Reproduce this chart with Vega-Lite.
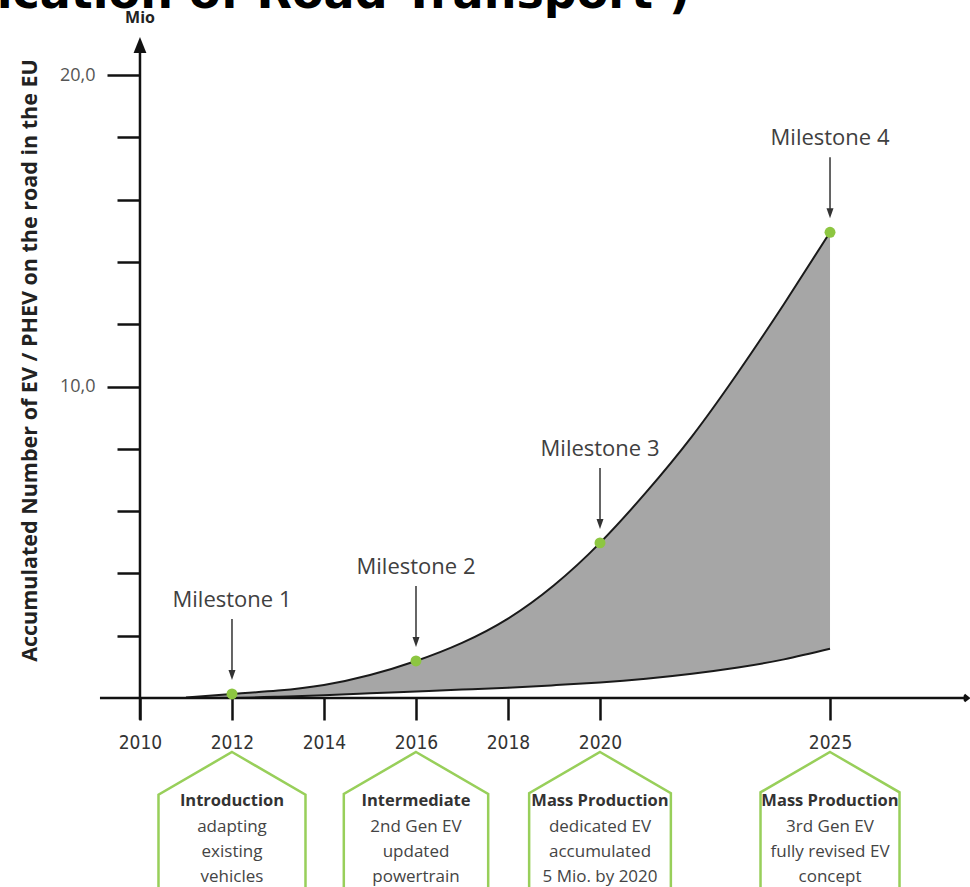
{
  "$schema": "https://vega.github.io/schema/vega-lite/v6.json",
  "width": 970,
  "height": 887,
  "autosize": {"type": "none"},
  "padding": 0,
  "background": "white",
  "config": {"view": {"stroke": null}},
  "datasets": {
    "growth": [
      {"year": 2011, "low": 0.0, "high": 0.02},
      {"year": 2012, "low": 0.0, "high": 0.13},
      {"year": 2013, "low": 0.04, "high": 0.24},
      {"year": 2014, "low": 0.09, "high": 0.42},
      {"year": 2015, "low": 0.15, "high": 0.74},
      {"year": 2016, "low": 0.21, "high": 1.19},
      {"year": 2017, "low": 0.27, "high": 1.77},
      {"year": 2018, "low": 0.33, "high": 2.55},
      {"year": 2019, "low": 0.41, "high": 3.62},
      {"year": 2020, "low": 0.5, "high": 4.98},
      {"year": 2021, "low": 0.62, "high": 6.6},
      {"year": 2022, "low": 0.78, "high": 8.4},
      {"year": 2023, "low": 0.98, "high": 10.45},
      {"year": 2024, "low": 1.24, "high": 12.65},
      {"year": 2025, "low": 1.58, "high": 14.95}
    ],
    "milestones": [
      {"year": 2012, "value": 0.13, "label": "Milestone 1", "phase": "Introduction", "detail": "adapting\nexisting\nvehicles"},
      {"year": 2016, "value": 1.19, "label": "Milestone 2", "phase": "Intermediate", "detail": "2nd Gen EV\nupdated\npowertrain"},
      {"year": 2020, "value": 4.98, "label": "Milestone 3", "phase": "Mass Production", "detail": "dedicated EV\naccumulated\n5 Mio. by 2020"},
      {"year": 2025, "value": 14.95, "label": "Milestone 4", "phase": "Mass Production", "detail": "3rd Gen EV\nfully revised  EV\nconcept"}
    ]
  },
  "layer": [
    {
      "data": {"name": "growth"},
      "mark": {"type": "area", "interpolate": "natural", "color": "#a6a6a6"},
      "encoding": {
        "x": {
          "field": "year",
          "type": "quantitative",
          "scale": {"domain": [2006.957, 2028.043], "nice": false, "zero": false},
          "axis": {
            "orient": "bottom",
            "offset": -189,
            "values": [2010, 2012, 2014, 2016, 2018, 2020, 2025],
            "format": "d",
            "domain": false,
            "grid": false,
            "tickSize": 22,
            "tickWidth": 2.5,
            "tickColor": "#111111",
            "labelFont": "DejaVu Sans Condensed",
            "labelFontSize": 19,
            "labelColor": "#333333",
            "labelPadding": 13,
            "labelFlush": false,
            "labelOverlap": false,
            "title": null
          }
        },
        "y": {
          "field": "high",
          "type": "quantitative",
          "scale": {"domain": [-6.067, 22.408], "nice": false, "zero": false},
          "axis": {
            "orient": "left",
            "offset": -140,
            "values": [2, 4, 6, 8, 10, 12, 14, 16, 18, 20],
            "domain": false,
            "grid": false,
            "tickSize": {"condition": {"test": "datum.value % 10 === 0", "value": 33}, "value": 23},
            "tickWidth": 2.5,
            "tickColor": "#111111",
            "labelExpr": "datum.value % 10 === 0 ? replace(format(datum.value, '.1f'), '.', ',') : ''",
            "labelFont": "Open Sans",
            "labelFontSize": 18,
            "labelColor": "#555555",
            "labelPadding": 12,
            "labelOverlap": false,
            "title": "Accumulated Number of EV / PHEV on the road in the EU",
            "titleFont": "Open Sans",
            "titleFontWeight": "bold",
            "titleFontSize": 21.5,
            "titleColor": "#222222",
            "titleAngle": -90,
            "titleX": -110,
            "titleY": 360,
            "titleAlign": "center",
            "titleBaseline": "middle"
          }
        },
        "y2": {"field": "low"}
      }
    },
    {
      "data": {"name": "growth"},
      "mark": {"type": "line", "interpolate": "natural", "color": "#1a1a1a", "strokeWidth": 2},
      "encoding": {
        "x": {"field": "year", "type": "quantitative"},
        "y": {"field": "high", "type": "quantitative"}
      }
    },
    {
      "data": {"name": "growth"},
      "mark": {"type": "line", "interpolate": "natural", "color": "#1a1a1a", "strokeWidth": 2},
      "encoding": {
        "x": {"field": "year", "type": "quantitative"},
        "y": {"field": "low", "type": "quantitative"}
      }
    },
    {
      "data": {"values": [{}]},
      "mark": {"type": "rule", "color": "#111111", "strokeWidth": 2.5},
      "encoding": {
        "x": {"datum": 2009.13, "type": "quantitative"},
        "x2": {"datum": 2027.95},
        "y": {"datum": 0, "type": "quantitative"}
      }
    },
    {
      "data": {"values": [{}]},
      "mark": {"type": "rule", "color": "#111111", "strokeWidth": 2.5},
      "encoding": {
        "x": {"datum": 2010, "type": "quantitative"},
        "y": {"datum": -0.7, "type": "quantitative"},
        "y2": {"datum": 21.0}
      }
    },
    {
      "data": {"values": [{}]},
      "mark": {"type": "point", "shape": "M0,0 L0.8,2 L-0.8,2 Z", "size": 256, "filled": true, "color": "#111111", "opacity": 1},
      "encoding": {
        "x": {"datum": 2010, "type": "quantitative"},
        "y": {"datum": 21.22, "type": "quantitative"}
      }
    },
    {
      "data": {"values": [{}]},
      "mark": {"type": "point", "shape": "M-1.3,-1 L0,0 L-1.3,1", "size": 36, "filled": false, "color": "#111111", "strokeWidth": 3, "opacity": 1},
      "encoding": {
        "x": {"datum": 2028.0, "type": "quantitative"},
        "y": {"datum": 0, "type": "quantitative"}
      }
    },
    {
      "data": {"values": [{}]},
      "mark": {"type": "text", "text": "Electrification of Road Transport )", "font": "DejaVu Sans", "fontWeight": "bold", "fontSize": 46, "color": "#000000", "align": "right", "baseline": "alphabetic"},
      "encoding": {
        "x": {"datum": 2021.957, "type": "quantitative"},
        "y": {"datum": 22.151, "type": "quantitative"}
      }
    },
    {
      "data": {"values": [{}]},
      "mark": {"type": "text", "text": "Mio", "font": "Open Sans", "fontWeight": "bold", "fontSize": 16, "color": "#222222", "baseline": "middle", "yOffset": -19},
      "encoding": {
        "x": {"datum": 2010, "type": "quantitative"},
        "y": {"datum": 21.22, "type": "quantitative"}
      }
    },
    {
      "data": {"name": "milestones"},
      "mark": {"type": "rule", "color": "#333333", "strokeWidth": 1.5, "yOffset": -75, "y2Offset": -18},
      "encoding": {
        "x": {"field": "year", "type": "quantitative"},
        "y": {"field": "value", "type": "quantitative"},
        "y2": {"field": "value"}
      }
    },
    {
      "data": {"name": "milestones"},
      "mark": {"type": "point", "shape": "M-0.7,-2 L0,0 L0.7,-2 Z", "size": 100, "filled": true, "color": "#333333", "opacity": 1, "yOffset": -14},
      "encoding": {
        "x": {"field": "year", "type": "quantitative"},
        "y": {"field": "value", "type": "quantitative"}
      }
    },
    {
      "data": {"name": "milestones"},
      "mark": {"type": "point", "shape": "circle", "size": 120, "filled": true, "color": "#8dc641", "opacity": 1},
      "encoding": {
        "x": {"field": "year", "type": "quantitative"},
        "y": {"field": "value", "type": "quantitative"}
      }
    },
    {
      "data": {"name": "milestones"},
      "mark": {"type": "text", "font": "Open Sans", "fontSize": 22, "color": "#404040", "align": "center", "baseline": "middle", "yOffset": -94},
      "encoding": {
        "x": {"field": "year", "type": "quantitative"},
        "y": {"field": "value", "type": "quantitative"},
        "text": {"field": "label"}
      }
    },
    {
      "data": {"name": "milestones"},
      "mark": {"type": "point", "shape": "M0,0 L1,0.58 L1,2.6 L-1,2.6 L-1,0.58 Z", "filled": false, "color": "#98cf5a", "strokeWidth": 2.5, "opacity": 1, "yOffset": 54},
      "encoding": {
        "x": {"field": "year", "type": "quantitative"},
        "y": {"datum": 0, "type": "quantitative"},
        "size": {
          "field": "label",
          "type": "nominal",
          "scale": {"domain": ["Milestone 1", "Milestone 2", "Milestone 3", "Milestone 4"], "range": [21609, 19321, 25281, 27225]},
          "legend": null
        }
      }
    },
    {
      "data": {"name": "milestones"},
      "mark": {"type": "text", "font": "Open Sans", "fontWeight": "bold", "fontSize": 16.5, "color": "#333333", "align": "center", "baseline": "middle", "yOffset": 103},
      "encoding": {
        "x": {"field": "year", "type": "quantitative"},
        "y": {"datum": 0, "type": "quantitative"},
        "text": {"field": "phase"}
      }
    },
    {
      "data": {"name": "milestones"},
      "mark": {"type": "text", "font": "Open Sans", "fontSize": 17, "color": "#444444", "align": "center", "baseline": "middle", "lineBreak": "\n", "lineHeight": 25, "yOffset": 129},
      "encoding": {
        "x": {"field": "year", "type": "quantitative"},
        "y": {"datum": 0, "type": "quantitative"},
        "text": {"field": "detail"}
      }
    }
  ]
}
